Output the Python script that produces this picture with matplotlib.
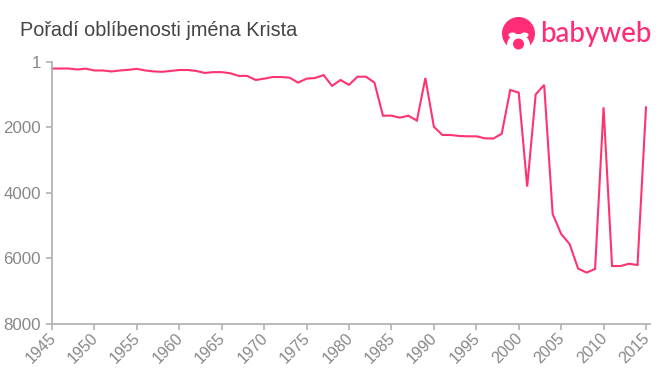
import matplotlib
matplotlib.use("Agg")
import matplotlib.pyplot as plt
from matplotlib.patches import Circle, Ellipse
from matplotlib.transforms import ScaledTranslation

years = list(range(1945, 2016))
rank = [200, 200, 200, 230, 205, 260, 260, 290, 260, 240,
        210, 260, 290, 300, 275, 245, 245, 275, 335, 310,
        310, 345, 425, 425, 550, 510, 460, 460, 480, 630,
        510, 490, 400, 730, 550, 700, 450, 450, 630, 1640,
        1640, 1700, 1640, 1790, 490, 1975, 2230, 2230, 2260, 2270,
        2270, 2330, 2340, 2190, 855, 935, 3805, 990, 700, 4640,
        5250, 5560, 6310, 6430, 6320, 1385, 6230, 6230, 6160, 6200,
        1385]
y_ticks = [1, 2000, 4000, 6000, 8000]
x_ticks = list(range(1945, 2016, 5))

W, H = 660, 375
PINK = "#ff3370"
LOGO = "#ff2d78"
GREY = "#b3b3b3"

plt.rcParams["font.family"] = ["Liberation Sans", "DejaVu Sans"]

fig = plt.figure(figsize=(W / 100, H / 100), dpi=100)
ax = fig.add_axes([52 / W, 1 - 324 / H, 598 / W, 262 / H])
ax.plot(years, rank, color=PINK, lw=1.5, solid_joinstyle="miter", clip_on=False)

ax.set_xlim(1945, 2015 + 4 / 8.486)
ax.set_ylim(8000, 1)
ax.set_xticks(x_ticks)
ax.set_yticks(y_ticks)
ax.set_xticklabels(x_ticks, rotation=45, ha="right", rotation_mode="anchor")
ax.tick_params(axis="both", length=4, width=1.2, color=GREY, labelcolor="#888888", labelsize=12.2)
ax.tick_params(axis="x", pad=2, labelsize=11.5)
ax.tick_params(axis="y", pad=4)
shift = ScaledTranslation(-4 / 100, 2 / 100, fig.dpi_scale_trans)
for label in ax.get_xticklabels():
    label.set_transform(label.get_transform() + shift)
ax.spines["top"].set_visible(False)
ax.spines["right"].set_visible(False)
ax.spines["left"].set_color(GREY)
ax.spines["bottom"].set_color(GREY)
ax.spines["left"].set_linewidth(1.3)
ax.spines["bottom"].set_linewidth(1.3)

fig.text(20 / W, 1 - 30.5 / H, "Pořadí oblíbenosti jména Krista", fontsize=14.3,
         color="#444444", va="center", ha="left")

# logo, in pixel coordinates
logo = fig.add_axes([0, 0, 1, 1], facecolor="none")
logo.set_xlim(0, W)
logo.set_ylim(H, 0)
logo.axis("off")
logo.add_patch(Circle((518.5, 33.5), 16.5, color=LOGO, lw=0))
logo.add_patch(Ellipse((518.5, 45), 23, 22, color="white", lw=0))
logo.add_patch(Ellipse((512.5, 35), 8, 5, color="white", lw=0))
logo.add_patch(Ellipse((524.5, 35), 8, 5, color="white", lw=0))
logo.add_patch(Circle((518.5, 44), 5.5, color=LOGO, lw=0))
logo.text(540, 34, "babyweb", fontsize=20, color=LOGO, family="Lato", weight="medium",
          va="center", ha="left")

fig.savefig("out.png", dpi=100)
